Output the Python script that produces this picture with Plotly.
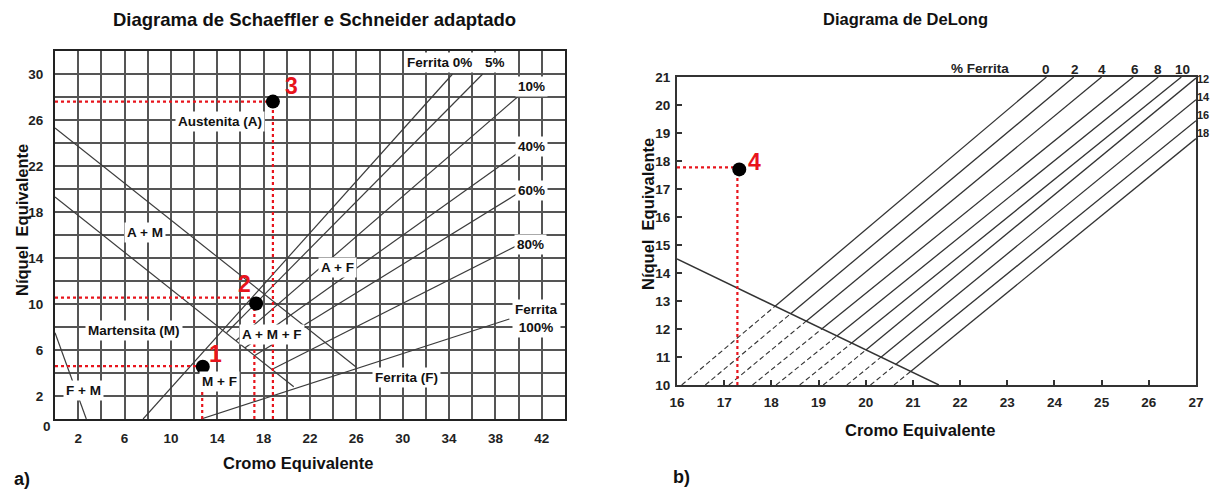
import plotly.graph_objects as go

FONT = "Liberation Sans, Arial, sans-serif"

# ---------------- Data: Schaeffler (left) ----------------
# each line: (x0, y0, x1, y1)
sch_line_names = ["ferrita 0%", "5%", "10%", "40%", "60%", "80%", "ferrita 100%",
                  "M limite sup", "M limite inf", "F+M limite"]
sch_x0 = [7.6, 14.8, 15.6, 16.4, 17.2, 18.7, 12.6, 0.0, 0.0, 0.0]
sch_y0 = [0.0, 7.5, 6.8, 6.2, 5.5, 4.3, 0.0, 25.3, 19.3, 7.5]
sch_x1 = [34.3, 36.9, 39.9, 39.9, 39.9, 39.9, 39.2, 26.0, 20.6, 2.7]
sch_y1 = [30.0, 30.0, 28.0, 23.1, 19.6, 15.1, 8.7, 4.5, 2.8, 0.0]

sch_pts_label = ["1", "2", "3"]
sch_pts_x = [12.75, 17.35, 18.8]
sch_pts_y = [4.55, 10.05, 27.6]
sch_guide_x = [12.7, 17.2, 18.8]     # vertical red dotted positions
sch_guide_y = [4.6, 10.55, 27.6]     # horizontal red dotted positions

sch_region_text = ["Austenita (A)", "A + M", "Martensita (M)", "F + M", "M + F",
                   "A + M + F", "A + F", "Ferrita (F)", "Ferrita 0%", "5%", "10%",
                   "40%", "60%", "80%", "Ferrita<br>100%"]
sch_region_x = [14.2, 7.8, 6.8, 2.5, 14.2, 18.7, 24.4, 30.3, 33.2, 38.0, 41.1,
                41.1, 41.1, 41.0, 41.5]
sch_region_y = [25.9, 16.2, 7.7, 2.5, 3.3, 7.35, 13.2, 3.6, 31.0, 31.0, 28.9,
                23.7, 19.9, 15.2, 8.75]

sch_xticks = [2, 6, 10, 14, 18, 22, 26, 30, 34, 38, 42]
sch_yticks = [2, 6, 10, 14, 18, 22, 26, 30]

# ---------------- Data: DeLong (right) ----------------
dl_ferrite = ["0", "2", "4", "6", "8", "10", "12", "14", "16", "18"]
dl_x0 = [16.1, 16.6, 17.1, 17.6, 18.1, 18.6, 19.1, 19.6, 20.1, 20.6]
dl_y0 = [10.0] * 10
dl_x1 = [23.83, 24.41, 25.0, 25.67, 26.2, 26.69, 27.0, 27.0, 27.0, 27.0]
dl_y1 = [21.0, 21.0, 21.0, 21.0, 21.0, 21.0, 20.96, 20.19, 19.44, 18.8]
dl_top_label_x = [23.82, 24.43, 25.0, 25.7, 26.19, 26.72]
dl_side_label_y = [20.93, 20.29, 19.64, 19.0]
dl_ferrite_title_x = 22.42

dl_div_x = [16.0, 21.55]   # decreasing boundary line
dl_div_y = [14.5, 10.0]

dl_pt_x = [17.32]
dl_pt_y = [17.7]
dl_guide_x = [17.28]
dl_guide_y = [17.77]

dl_xticks = list(range(16, 28))
dl_yticks = list(range(10, 22))

# ---------------- Figure ----------------
# The page body adds an 8px offset, so page pixel positions are converted
# with that offset.
W, H, OFF = 1210, 485, 8


def fx(px):
    return (px - OFF) / W


def fy(py):
    return 1 - (py - OFF) / H


fig = go.Figure()
LINE_C = "#3c3c3c"
RED = "#e8141c"

for i in range(len(sch_x0)):
    fig.add_trace(go.Scatter(x=[sch_x0[i], sch_x1[i]], y=[sch_y0[i], sch_y1[i]],
                             mode="lines", line=dict(color=LINE_C, width=1.2),
                             xaxis="x", yaxis="y", hoverinfo="skip"))

for i in range(len(sch_pts_x)):
    fig.add_trace(go.Scatter(x=[0, sch_pts_x[i] - 0.3], y=[sch_guide_y[i], sch_guide_y[i]],
                             mode="lines", line=dict(color=RED, width=2.2, dash="dot"),
                             xaxis="x", yaxis="y", hoverinfo="skip"))
    fig.add_trace(go.Scatter(x=[sch_guide_x[i], sch_guide_x[i]], y=[0, sch_pts_y[i]],
                             mode="lines", line=dict(color=RED, width=2.2, dash="dot"),
                             xaxis="x", yaxis="y", hoverinfo="skip"))
fig.add_trace(go.Scatter(x=sch_pts_x, y=sch_pts_y, mode="markers",
                         marker=dict(color="black", size=14),
                         xaxis="x", yaxis="y", hoverinfo="skip"))

m_div = (dl_div_y[1] - dl_div_y[0]) / (dl_div_x[1] - dl_div_x[0])
for i in range(len(dl_x0)):
    xa, ya, xb, yb = dl_x0[i], dl_y0[i], dl_x1[i], dl_y1[i]
    s = (yb - ya) / (xb - xa)
    xi = (dl_div_y[0] - m_div * dl_div_x[0] - ya + s * xa) / (s - m_div)
    yi = ya + s * (xi - xa)
    fig.add_trace(go.Scatter(x=[xa, xi], y=[ya, yi], mode="lines",
                             line=dict(color="#333333", width=1.1, dash="5px,3px"),
                             xaxis="x2", yaxis="y2", hoverinfo="skip"))
    fig.add_trace(go.Scatter(x=[xi, xb], y=[yi, yb], mode="lines",
                             line=dict(color="#333333", width=1.3),
                             xaxis="x2", yaxis="y2", hoverinfo="skip"))
fig.add_trace(go.Scatter(x=dl_div_x, y=dl_div_y, mode="lines",
                         line=dict(color="#333333", width=1.4),
                         xaxis="x2", yaxis="y2", hoverinfo="skip"))
fig.add_trace(go.Scatter(x=[16, dl_pt_x[0] - 0.1], y=[dl_guide_y[0], dl_guide_y[0]], mode="lines",
                         line=dict(color=RED, width=2.2, dash="dot"),
                         xaxis="x2", yaxis="y2", hoverinfo="skip"))
fig.add_trace(go.Scatter(x=[dl_guide_x[0], dl_guide_x[0]], y=[10, dl_pt_y[0]], mode="lines",
                         line=dict(color=RED, width=2.2, dash="dot"),
                         xaxis="x2", yaxis="y2", hoverinfo="skip"))
fig.add_trace(go.Scatter(x=dl_pt_x, y=dl_pt_y, mode="markers",
                         marker=dict(color="black", size=14),
                         xaxis="x2", yaxis="y2", hoverinfo="skip"))

# ---------------- Annotations ----------------
ann = []
lab_font = dict(family=FONT, size=13.5, color="#111", weight="bold")
for t, x, y in zip(sch_region_text, sch_region_x, sch_region_y):
    ann.append(dict(text=t, x=x, y=y, xref="x", yref="y", showarrow=False,
                    xanchor="center", yanchor="middle",
                    font=lab_font, bgcolor="white", borderpad=2))
red_font = dict(family=FONT, size=23, color=RED, weight="bold")
ann.append(dict(text="1", x=sch_pts_x[0] + 1.1, y=sch_pts_y[0] + 1.1, xref="x", yref="y",
                showarrow=False, font=red_font))
ann.append(dict(text="2", x=sch_pts_x[1] - 1.0, y=sch_pts_y[1] + 1.65, xref="x", yref="y",
                showarrow=False, font=red_font))
ann.append(dict(text="3", x=sch_pts_x[2] + 1.6, y=sch_pts_y[2] + 1.35, xref="x", yref="y",
                showarrow=False, font=red_font))
ann.append(dict(text="4", x=dl_pt_x[0] + 0.32, y=dl_pt_y[0] + 0.27, xref="x2", yref="y2",
                showarrow=False, font=red_font))


def paper(text, px, py, font, angle=0):
    return dict(text=text, x=fx(px), y=fy(py), xref="paper", yref="paper",
                xanchor="center", yanchor="middle", textangle=angle,
                showarrow=False, font=font)


tick_font = dict(family=FONT, size=13.5, color="#222", weight="bold")
ann.append(paper("0", 47, 426, tick_font))
# DeLong ferrite labels: x in data units on top, y in page units (outside the range)
ann.append(dict(text="% Ferrita", x=dl_ferrite_title_x, y=fy(68), xref="x2", yref="paper",
                xanchor="center", yanchor="middle", showarrow=False, font=tick_font))
for t, x in zip(dl_ferrite[:6], dl_top_label_x):
    ann.append(dict(text=t, x=x, y=fy(69), xref="x2", yref="paper",
                    xanchor="center", yanchor="middle", showarrow=False, font=tick_font))
side_font = dict(family=FONT, size=11, color="#222", weight="bold")
for t, y in zip(dl_ferrite[6:], dl_side_label_y):
    ann.append(dict(text=t, x=fx(1196), y=y, xref="paper", yref="y2", xanchor="left",
                    yanchor="middle", showarrow=False, font=side_font, borderpad=0))

axis_font = dict(family=FONT, size=16.5, color="#111", weight="bold")
ab_font = dict(family=FONT, size=18, color="#111", weight="bold")
ann.append(paper("Diagrama de Schaeffler e Schneider adaptado", 314, 19,
                 dict(family=FONT, size=18.5, color="#111", weight="bold")))
ann.append(paper("Diagrama de DeLong", 905, 19,
                 dict(family=FONT, size=16.5, color="#111", weight="bold")))
ann.append(paper("Cromo Equivalente", 298, 463, axis_font))
ann.append(paper("Cromo Equivalente", 920, 430, axis_font))
ann.append(paper("Níquel  Equivalente", 22, 220, axis_font, -90))
ann.append(paper("Níquel  Equivalente", 648, 214, axis_font, -90))
ann.append(paper("a)", 22, 479, ab_font))
ann.append(paper("b)", 681, 477, ab_font))

GRID_C = "#555555"
common = dict(automargin=False, zeroline=False, showline=True, mirror=True,
              tickfont=tick_font)
fig.update_layout(
    width=W, height=H,
    margin=dict(l=0, r=0, t=0, b=0, pad=0),
    paper_bgcolor="white", plot_bgcolor="white",
    showlegend=False,
    annotations=ann,
    xaxis=dict(domain=[fx(55), fx(565)], range=[0, 44], anchor="y",
               tickvals=sch_xticks, ticks="", showgrid=True, gridcolor=GRID_C, gridwidth=1.6,
               minor=dict(tick0=0, dtick=2, showgrid=True, gridcolor=GRID_C, gridwidth=1.6),
               linecolor="#222", linewidth=2, ticklabelstandoff=6, **common),
    yaxis=dict(domain=[fy(419), fy(51)], range=[0, 32], anchor="x",
               tickvals=sch_yticks, ticks="", showgrid=True, gridcolor=GRID_C, gridwidth=1.6,
               minor=dict(tick0=0, dtick=2, showgrid=True, gridcolor=GRID_C, gridwidth=1.6),
               linecolor="#222", linewidth=2, ticklabelstandoff=7, **common),
    xaxis2=dict(domain=[fx(677), fx(1196)], range=[16, 27], anchor="y2",
                tickvals=dl_xticks, ticks="inside", ticklen=5, tickwidth=1.5, tickcolor="#333",
                showgrid=False, linecolor="#333", linewidth=2, ticklabelstandoff=4, **common),
    yaxis2=dict(domain=[fy(385), fy(77)], range=[10, 21], anchor="x2",
                tickvals=dl_yticks, ticks="inside", ticklen=5, tickwidth=1.5, tickcolor="#333",
                showgrid=False, linecolor="#333", linewidth=2, ticklabelstandoff=2, **common),
)

fig.write_html("out.html")
